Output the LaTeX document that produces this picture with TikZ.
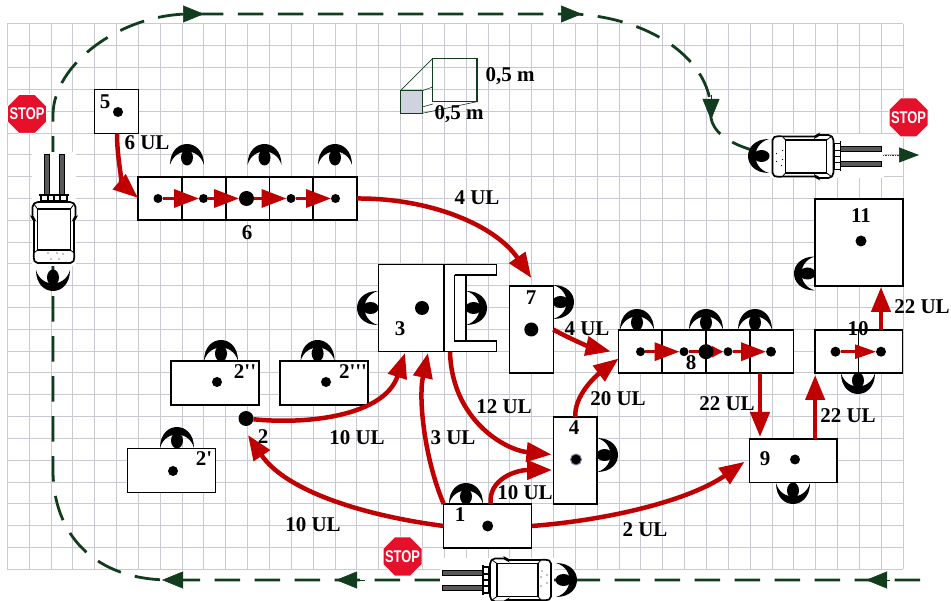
\documentclass[tikz,border=0pt]{standalone}
\usepackage{fontspec}
\usepackage{graphicx}
\setmainfont{Liberation Serif}
\newfontfamily\stopfont{Liberation Sans}
\font\primefont="Liberation Serif/B" at 21pt
\usetikzlibrary{arrows.meta,shapes.geometric,calc}
\definecolor{rd}{HTML}{C00000}
\definecolor{grn}{HTML}{123C1E}
\definecolor{gridc}{HTML}{C9C9D1}
\definecolor{stopred}{HTML}{E6102A}
\tikzset{
  box/.style={draw=black,line width=1.4pt,fill=white,rectangle,inner sep=0pt,outer sep=0pt},
  dotn/.style={circle,fill=black,inner sep=0pt,minimum size=#1,outer sep=0pt},
  dotn/.default=10pt,
  lab/.style={font=\fontsize{21}{21}\selectfont\bfseries,inner sep=0pt},
  flow/.style={draw=rd,line width=4.5pt,-{Triangle[length=25pt,width=19pt]}},
  flowc/.style={draw=rd,line width=3.5pt,-{Triangle[length=25pt,width=18pt]}},
  route/.style={draw=grn,line width=2.8pt,dash pattern=on 25.5pt off 14.5pt},
  rhead/.style={draw=grn,line width=.5pt,-{Triangle[length=21pt,width=17pt]}},
  stopsign/.style={regular polygon,regular polygon sides=8,minimum size=42pt,fill=stopred,draw=white,line width=.8pt,inner sep=-8pt,text=white,font=\stopfont\fontsize{17}{17}\selectfont\bfseries},
  eye/.pic={
    \fill[black] (-17,0) .. controls (-17,-28) and (17,-28) .. (17,0) .. controls (12,-18) and (-12,-18) .. (-17,0) -- cycle;
    \fill[black] (0,-7.5) ellipse [x radius=6,y radius=8];
  },
  forklift/.pic={
    \fill[white] (-22,-80) rectangle (22,34);
    \foreach \s in {-7.5,7.5}{\draw[fill=gray!70!black,draw=black,line width=.7pt] (\s-2.5,-78) rectangle (\s+2.5,-37);}
    \draw[fill=white,line width=1.2pt] (-13,-37) rectangle (13,-31);
    \draw[line width=1.2pt] (-6,-36) -- (-6,-31) (6,-36) -- (6,-31) (0,-36)--(0,-31);
    \draw[line width=1.8pt] (-15,-37) -- (15,-37);
    \draw[fill=white,line width=1.7pt,rounded corners=2pt] (-18,-30) -- (18,-30) -- (21.5,-27) -- (21.5,-14) -- (20,-13) -- (20,20) -- (20.5,27) -- (18.5,31) -- (-18.5,31) -- (-20.5,27) -- (-20,20) -- (-20,-13) -- (-21.5,-14) -- (-21.5,-27) -- cycle;
    \draw[fill=white,line width=1.3pt] (-16.5,-23) rectangle (16.5,18);
    \draw[line width=.8pt] (-16.5,-23) -- (-20,-28) (16.5,-23) -- (20,-28) (-16.5,18) -- (-20,21) (16.5,18) -- (20,21);
    \fill[black] (-6,21) circle (.7) (3,21) circle (.7) (9,22) circle (.7) (-3,27) circle (.7) (5,27) circle (.7);
  },
}
\begin{document}
\begin{tikzpicture}[x=1pt,y=-1pt]
\useasboundingbox (0,0) rectangle (951,601);
\fill[white] (0,0) rectangle (951,601);
% grid
\foreach \i in {0,...,41}{\draw[gridc,line width=1pt] ({7.3+\i*21.85},24) -- ({7.3+\i*21.85},569.3);}
\foreach \j in {0,...,25}{\draw[gridc,line width=1pt] (7.3,{24+\j*21.81}) -- (903.2,{24+\j*21.81});}
% route
\path[route] (920,580) -- (170,580) .. controls (95,580) and (53,535) .. (53,470) -- (53,115)
  .. controls (53,65) and (120,14) .. (190,14) -- (575,14)
  .. controls (650,18) and (715,60) .. (711,118) .. controls (713,130) and (725,142) .. (752,150);
\coordinate (h1a) at (182,14); \coordinate (h1b) at (204,14);
\coordinate (h2a) at (560,14); \coordinate (h2b) at (582,14);
\coordinate (h3a) at (711,95); \coordinate (h3b) at (711,120);
\coordinate (h4a) at (890,580); \coordinate (h4b) at (866,580);
\coordinate (h5a) at (365,580); \coordinate (h5b) at (336,580);
\coordinate (h6a) at (184,580); \coordinate (h6b) at (162,580);
\coordinate (h7a) at (883,155); \coordinate (h7b) at (919,155);
\foreach \a/\b in {h1a/h1b,h2a/h2b,h3a/h3b,h4a/h4b,h5a/h5b,h6a/h6b}{\draw[rhead] (\a) -- (\b);}
% forklifts
\pic at (54,232) {forklift};
\pic[rotate=-90] at (803.5,156.5) {forklift};
\pic[rotate=90] at (520,580) {forklift};
\draw[grn,line width=.7pt,densely dotted,-{Triangle[length=20pt,width=15pt]}] (h7a) -- (h7b);
% eyes
\pic at (187,165) {eye};
\pic at (264.5,165) {eye};
\pic at (335,165) {eye};
\pic[rotate=180] at (53,270) {eye};
\pic[rotate=90] at (378,308) {eye};
\pic[rotate=-90] at (466,308) {eye};
\pic[rotate=-90] at (553,302) {eye};
\pic at (221,361) {eye};
\pic at (317.6,361) {eye};
\pic at (177,448) {eye};
\pic at (466,504) {eye};
\pic[rotate=-90] at (597,455) {eye};
\pic at (637,330) {eye};
\pic at (706,330) {eye};
\pic at (755,330) {eye};
\pic[rotate=180] at (858,373) {eye};
\pic[rotate=180] at (793,483) {eye};
\pic[rotate=90] at (815,273.5) {eye};
\pic[rotate=90] at (769,156) {eye};
\pic[rotate=-90] at (556,580) {eye};
% boxes
\node[box,minimum width=44pt,minimum height=44pt] (b5) at (116.5,111.5) {};
\foreach \n/\x in {a/160,b/204,c/248,d/291.5,e/335}{\node[box,minimum width=43.8pt,minimum height=43pt] (c6\n) at (\x,198.5) {};}
\node[box,minimum width=88pt,minimum height=44pt] (b1) at (487.7,526) {};
\node[box,minimum width=88pt,minimum height=44pt] (b2a) at (171.3,470.3) {};
\node[box,minimum width=88pt,minimum height=44pt] (b2b) at (215,383) {};
\node[box,minimum width=88pt,minimum height=44pt] (b2c) at (324,383) {};
\draw[box] (444,264.3) -- (496.7,264.3) -- (496.7,275) -- (466,275) -- (466,341) -- (496.7,341) -- (496.7,351.5) -- (444,351.5) -- cycle;
\draw[line width=1.4pt] (454.5,275) -- (466,275) (454.5,275) -- (454.5,341) -- (466,341);
\node[box,minimum width=65.7pt,minimum height=87.2pt] (b3) at (411.2,307.9) {};
\node[box,minimum width=44pt,minimum height=87pt] (b7) at (531.3,329.5) {};
\node[box,minimum width=43.6pt,minimum height=87pt] (b4) at (575.3,460.5) {};
\foreach \n/\x in {a/640.5,b/684,c/728,d/771.7}{\node[box,minimum width=43.7pt,minimum height=43pt] (c8\n) at (\x,351.5) {};}
\node[box,minimum width=87.5pt,minimum height=43.5pt] (b9) at (793.3,460.8) {};
\foreach \n/\x in {a/837,b/880.5}{\node[box,minimum width=43.7pt,minimum height=43pt] (c10\n) at (\x,351.5) {};}
\node[box,minimum width=88pt,minimum height=87pt] (b11) at (859,242.5) {};
% cube
\definecolor{cubefill}{HTML}{D0D3DF}
\draw[grn,line width=.6pt] (400.4,90.7) -- (432.8,58.3) (422.3,90.7) -- (432.8,87) (400.4,113.3) -- (432.8,104) (422.3,113.3) -- (477,101.7);
\draw[grn,line width=1.2pt] (432.8,58.3) rectangle (477,101.7);
\draw[grn,line width=1.2pt,fill=cubefill] (400.4,90.7) rectangle (422.3,113.3);
% dots
\node[dotn] (d5) at (118,112) {};
\node[dotn=9pt] (d6a) at (158,198.5) {};
\node[dotn=9pt] (d6b) at (203.5,198.5) {};
\node[dotn=15pt] (d6c) at (246.5,198.5) {};
\node[dotn=9pt] (d6d) at (291,198.5) {};
\node[dotn=9pt] (d6e) at (335.5,198.5) {};
\node[dotn=11pt] (d1) at (487.7,526) {};
\node[dotn=10pt] (d2a) at (173,471) {};
\node[dotn=10pt] (d2b) at (217,382) {};
\node[dotn=10pt] (d2c) at (326,382) {};
\node[dotn=15pt] (d2) at (246,418.5) {};
\node[dotn=14pt] (d3) at (422,308) {};
\node[dotn=14pt] (d7) at (531.3,329.5) {};
\node[dotn=11pt,draw=blue!30!black!50,line width=1pt] (d4) at (576,459.5) {};
\node[dotn=9pt] (d8a) at (640.5,351.7) {};
\node[dotn=9pt] (d8b) at (684,351.7) {};
\node[dotn=9pt] (d8d) at (728,351.7) {};
\node[dotn=10pt] (d8e) at (771,351.7) {};
\node[dotn=10pt] (d9) at (795,459.5) {};
\node[dotn=10pt] (d10a) at (835.5,351.7) {};
\node[dotn=10pt] (d10b) at (881,351.7) {};
\node[dotn=11pt] (d11) at (861,241) {};
% chain arrows
\foreach \a/\b in {d6a/d6b,d6b/d6c,d6c/d6d,d6d/d6e,d8a/d8b,d8d/d8e}{\draw[flowc] (\a) -- (\b);}
\draw[draw=rd,line width=3pt,-{Triangle[length=12pt,width=11pt]}] (d8b) -- (d8d);
\node[dotn=15pt] (d8c) at (706,351.7) {};
\draw[draw=rd,line width=2.5pt,-{Triangle[length=21pt,width=14pt]}] (d10a) -- (d10b);
% flows
\coordinate (t3a) at (405,353);
\coordinate (t3b) at (428,353);
\coordinate (t2) at (248,435);
\draw[flow] ([xshift=.5pt]b5.south) .. controls +(0,28) and +(-14,-12) .. (c6a.west |- 0,198);
\draw[flow] (c6e.east) .. controls (430,198) and (495,225) .. ([yshift=8pt]b7.north);
\draw[flow] (b7.east) .. controls +(14,8) and +(-22,-5) .. ([xshift=-8pt]c8a.west);
\draw[flow] (b4.north) .. controls (574,395) and (597,375) .. ([yshift=-7pt]c8a.west);
\draw[flow] (450,352) .. controls (452,420) and (505,450) .. ([xshift=-2pt,yshift=6pt]b4.west);
\draw[flow] ([xshift=3pt]b1.north) .. controls (488,480) and (515,470) .. ([xshift=-1.5pt,yshift=-9.5pt]b4.west);
\draw[flow] (b1.east) .. controls (610,520) and (690,500) .. ([xshift=-5pt,yshift=-1pt]b9.west);
\draw[flow] (b1.north west) .. controls (425,460) and (418,400) .. (t3b);
\draw[flow] (b1.west) .. controls (360,515) and (285,490) .. (t2);
\draw[flow] (d2) .. controls (310,425) and (385,415) .. (t3a);
\draw[flow] (c8d.south west -| 760,0) -- (760,437);
\draw[flow] (b9.north -| c10a.west) -- ([yshift=-2pt]c10a.south west);
\draw[flow] (c10b.north -| d10b) -- ([yshift=-1pt]b11.south -| d10b);
% stop signs
\node[stopsign] (s1) at (27,114) {\scalebox{.76}[1]{STOP}};
\node[stopsign] (s2) at (908.5,117.5) {\scalebox{.76}[1]{STOP}};
\node[stopsign] (s3) at (402.5,556.5) {\scalebox{.76}[1]{STOP}};
% labels
\node[lab] (n5) at (105,102) {5};
\node[lab] (n6) at (247,233) {6};
\node[lab] (n1) at (460,515) {1};
\node[lab] (n2) at (263,437) {2};
\node[lab] (n2a) at (204,459) {\primefont 2'};
\node[lab] (n2b) at (245,372) {\primefont 2''};
\node[lab] (n2c) at (353,372) {\primefont 2'''};
\node[lab] (n3) at (400,329) {3};
\node[lab] (n4) at (574,428) {4};
\node[lab] (n7) at (531,298) {7};
\node[lab] (n8) at (691,363) {8};
\node[lab] (n9) at (765,459) {9};
\node[lab] (n10) at (858,329) {10};
\node[lab] (n11) at (861,216) {11};
\node[lab] (u1) at (147,143) {6 UL};
\node[lab] (u2) at (477,198) {4 UL};
\node[lab] (u3) at (587,329) {4 UL};
\node[lab] (u4) at (504,407) {12 UL};
\node[lab] (u5) at (618,399) {20 UL};
\node[lab] (u6) at (727,404) {22 UL};
\node[lab] (u7) at (848,416) {22 UL};
\node[lab] (u8) at (922,307) {22 UL};
\node[lab] (u9) at (525,493) {10 UL};
\node[lab] (u10) at (645,530) {2 UL};
\node[lab] (u11) at (453,438) {3 UL};
\node[lab] (u12) at (357,438) {10 UL};
\node[lab] (u13) at (313,525) {10 UL};
\node[lab] (m1) at (510,76) {0,5 m};
\node[lab] (m2) at (459,114) {0,5 m};
\end{tikzpicture}
\end{document}
